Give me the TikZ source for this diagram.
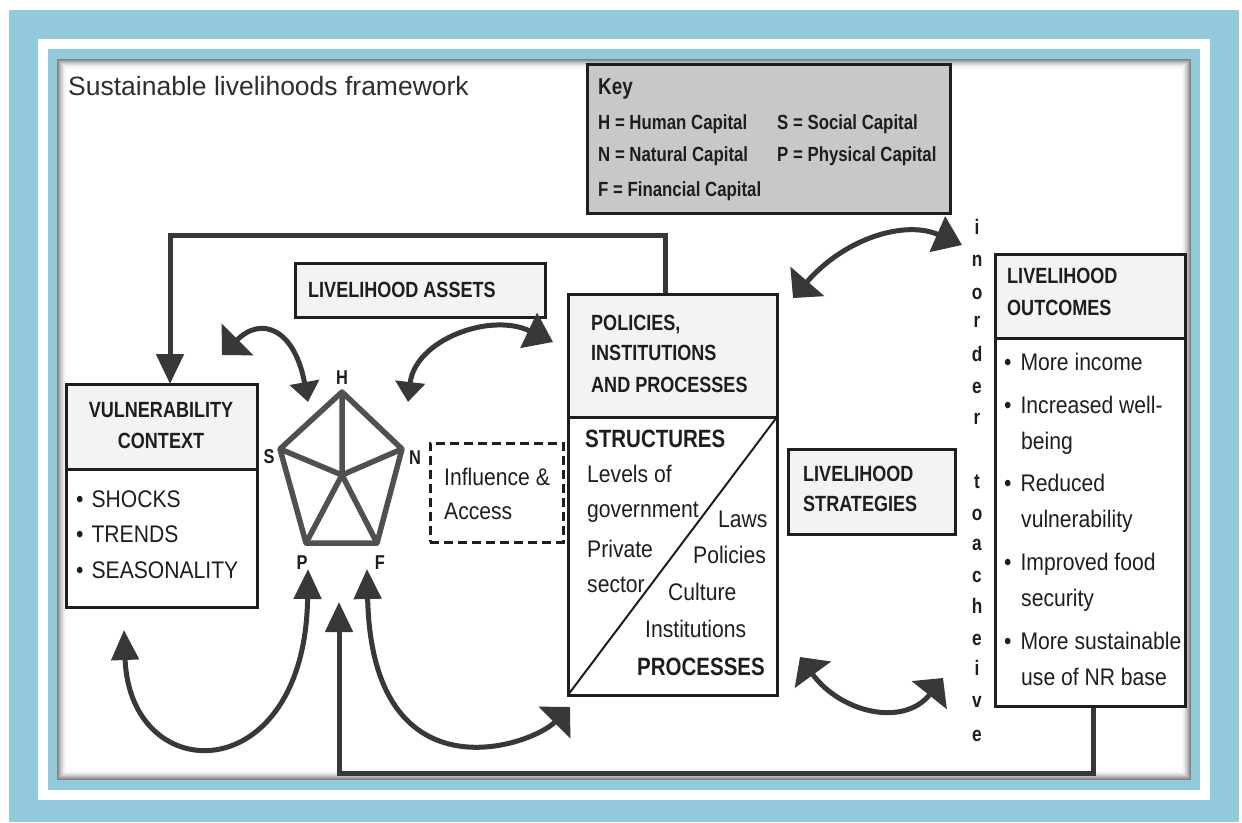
\documentclass[tikz,border=0pt]{standalone}
\usepackage{fontspec}
\setmainfont{Liberation Sans}
\newfontfamily\regf[FakeStretch=0.88]{Liberation Sans}
\newfontfamily\boldf[FakeStretch=0.82]{Liberation Sans}
\usetikzlibrary{arrows.meta}

\definecolor{frameblue}{HTML}{93CADB}
\definecolor{ink}{HTML}{1E1E1E}
\definecolor{titleink}{HTML}{2E2E2E}
\definecolor{arrowink}{HTML}{383838}
\definecolor{pentink}{HTML}{505050}
\definecolor{hdr}{HTML}{F3F3F3}
\definecolor{keyfill}{HTML}{C8C8C8}

\begin{document}
\begin{tikzpicture}[x=1pt,y=-1pt,
  box/.style={draw=ink, line width=3pt, inner sep=0pt, outer sep=0pt, fill=white},
  hbox/.style={box, fill=hdr},
  lbl/.style={anchor=base west, inner sep=0pt, text=ink, font=\boldf\bfseries\fontsize{22}{26}\selectfont},
  keyt/.style={lbl, font=\boldf\bfseries\fontsize{20.5}{24}\selectfont},
  biglbl/.style={lbl, font=\boldf\bfseries\fontsize{25}{30}\selectfont},
  txt/.style={anchor=base west, inner sep=0pt, text=ink, font=\regf\fontsize{24}{28}\selectfont},
  vlet/.style={anchor=base, inner sep=0pt, text=ink, font=\boldf\bfseries\fontsize{21}{24}\selectfont},
  capl/.style={anchor=center, inner sep=0pt, text=ink, font=\boldf\bfseries\fontsize{20}{24}\selectfont},
  conn/.style={draw=arrowink, line width=5pt},
  pent/.style={draw=pentink, line width=5.5pt, line join=round},
  hA/.tip={Triangle[length=30pt,width=27pt]},
  hB/.tip={Triangle[length=27pt,width=38pt]},
  hC/.tip={Triangle[length=22pt,width=44pt]},
  hD/.tip={Triangle[length=20pt,width=29pt]},
]
\useasboundingbox (0,0) rectangle (1242,822);

% ---- frame ----
\fill[white] (0,0) rectangle (1242,822);
\fill[frameblue] (9,10) rectangle (1239,822);
\fill[white] (38,39) rectangle (1210,800);
\fill[frameblue] (48,49) rectangle (1200,790);
\fill[white] (57,59) rectangle (1191,780);
\foreach \i/\g in {0.5/50,1.5/42,2.5/34,3.5/27,4.5/20,5.5/14,6.5/9,7.5/5,8.5/3,9.5/1}
  \draw[black!\g, line width=1pt] (57+\i,59+\i) rectangle (1191-\i,780-\i);

% ---- title ----
\node[anchor=base west, inner sep=0pt, text=titleink, font=\fontsize{26.5}{30}\selectfont] (title) at (68,95) {Sustainable livelihoods framework};

% ---- key ----
\node[box, fill=keyfill, minimum width=363pt, minimum height=149pt] (key) at (768.5,138.5) {};
\node[keyt, font=\boldf\bfseries\fontsize{23}{26}\selectfont] (keyK) at (598,94) {Key};
\node[keyt] (keyH) at (598,129) {H = Human Capital};
\node[keyt] (keyS) at (777,129) {S = Social Capital};
\node[keyt] (keyN) at (598,161) {N = Natural Capital};
\node[keyt] (keyP) at (777,161) {P = Physical Capital};
\node[keyt] (keyF) at (598,196) {F = Financial Capital};

% ---- connector from policies back to vulnerability ----
\coordinate (pipTop) at (665,294);
\coordinate (topR) at (665,235);
\coordinate (topL) at (170,235);
\coordinate (vulTop) at (170,384);
\draw[conn, -{hA}] (pipTop) -- (topR) -- (topL) -- (vulTop);

% ---- outcomes feed back to the asset pentagon ----
\coordinate (outBot) at (1093,706);
\coordinate (loopR) at (1093,773);
\coordinate (loopL) at (339,773);
\coordinate (pentIn) at (339,602);
\draw[conn, -{hA}] (outBot) -- (loopR) -- (loopL) -- (pentIn);

% ---- boxes ----
\node[hbox, minimum width=250pt, minimum height=54pt] (assets) at (420,290) {};
\node[lbl] (assetsT) at (308,297) {LIVELIHOOD ASSETS};

\node[hbox, minimum width=191pt, minimum height=85pt] (vulH) at (161.5,426.5) {};
\node[box, minimum width=191pt, minimum height=138pt] (vulB) at (161.5,538) {};
\node[lbl, anchor=base] (vulT1) at (161,417) {VULNERABILITY};
\node[lbl, anchor=base] (vulT2) at (161,448) {CONTEXT};
\node[txt] (vulB1) at (76,507) {\textbullet\hspace{8pt}SHOCKS};
\node[txt] (vulB2) at (76,542) {\textbullet\hspace{8pt}TRENDS};
\node[txt] (vulB3) at (76,578) {\textbullet\hspace{8pt}SEASONALITY};

\node[box, dashed, dash pattern=on 9pt off 5pt, minimum width=133pt, minimum height=99pt] (infl) at (496.5,492.5) {};
\node[txt] (inflT1) at (444,485) {Influence \&};
\node[txt] (inflT2) at (444,519) {Access};

\node[hbox, minimum width=209pt, minimum height=123pt] (pipH) at (672.5,355.5) {};
\node[box, minimum width=209pt, minimum height=278pt] (pipB) at (672.5,556) {};
\draw[ink, line width=2pt] (pipB.south west) -- (pipB.north east);
\node[lbl] (pipT1) at (591,330) {POLICIES,};
\node[lbl] (pipT2) at (591,360) {INSTITUTIONS};
\node[lbl] (pipT3) at (591,392) {AND PROCESSES};
\node[biglbl] (strT) at (585,447) {STRUCTURES};
\node[txt] (s1) at (587,482) {Levels of};
\node[txt] (s2) at (587,517) {government};
\node[txt] (s3) at (587,557) {Private};
\node[txt] (s4) at (587,592) {sector};
\node[txt] (p1) at (718,527) {Laws};
\node[txt] (p2) at (693,563) {Policies};
\node[txt] (p3) at (668,600) {Culture};
\node[txt] (p4) at (645,637) {Institutions};
\node[biglbl] (procT) at (637,675) {PROCESSES};

\node[hbox, minimum width=167pt, minimum height=85pt] (strat) at (871.5,491.5) {};
\node[lbl] (stratT1) at (803,481) {LIVELIHOOD};
\node[lbl] (stratT2) at (803,511) {STRATEGIES};

\node[hbox, minimum width=190pt, minimum height=84pt] (outH) at (1090,296) {};
\node[box, minimum width=190pt, minimum height=368pt] (outB) at (1090,522) {};
\node[lbl] (outT1) at (1007,283) {LIVELIHOOD};
\node[lbl] (outT2) at (1007,315) {OUTCOMES};
\node[txt] (o1) at (1004,370) {\textbullet\hspace{9pt}More income};
\node[txt] (o2) at (1004,413) {\textbullet\hspace{9pt}Increased well-};
\node[txt] (o3) at (1021,449) {being};
\node[txt] (o4) at (1004,491) {\textbullet\hspace{9pt}Reduced};
\node[txt] (o5) at (1021,527) {vulnerability};
\node[txt] (o6) at (1004,570) {\textbullet\hspace{9pt}Improved food};
\node[txt] (o7) at (1021,606) {security};
\node[txt] (o8) at (1004,649) {\textbullet\hspace{9pt}More sustainable};
\node[txt] (o9) at (1021,685) {use of NR base};

% ---- vertical caption ----
\foreach \c/\yy [count=\k] in {i/234,n/266,o/299,r/327,d/361,e/393,r/424,t/488,o/520,a/550,c/582,h/613,e/645,i/675,v/707,e/741}
  \node[vlet] (vl\k) at (977,\yy) {\c};

% ---- asset pentagon ----
\coordinate (H) at (342,392);
\coordinate (S) at (280,449);
\coordinate (N) at (402,449);
\coordinate (P) at (306,543);
\coordinate (F) at (377,543);
\coordinate (C) at (342,475);
\draw[pent] (H) -- (N) -- (F) -- (P) -- (S) -- cycle;
\draw[pent] (H) -- (C) (S) -- (C) (N) -- (C) (C) -- (P) (C) -- (F);
\node[capl] (capH) at (342,378) {H};
\node[capl] (capS) at (269,457) {S};
\node[capl] (capN) at (415,458) {N};
\node[capl] (capP) at (302,563) {P};
\node[capl] (capF) at (380,563) {F};

% ---- two-way influence arrows ----
\coordinate (hlA) at (222,355);
\coordinate (hlB) at (308,402);
\draw[conn, {hC}-{hD}] (hlA) .. controls (262,315) and (295,330) .. (hlB);

\coordinate (nA) at (408,402);
\coordinate (nB) at (553,342);
\draw[conn, {hD}-{hB}] (nA) .. controls (415,340) and (490,312) .. (nB);

\coordinate (trA) at (793,298);
\coordinate (trB) at (962,245);
\draw[conn, {hC}-{hB}] (trA) .. controls (845,238) and (905,220) .. (trB);

\coordinate (brA) at (800,657);
\coordinate (brB) at (943,678);
\draw[conn, {hC}-{hC}] (brA) .. controls (840,712) and (903,728) .. (brB);

\coordinate (plA) at (124,630);
\coordinate (plB) at (308,569);
\draw[conn, {hA}-{hA}] (plA) .. controls (130,790) and (305,790) .. (plB);

\coordinate (fA) at (367,569);
\coordinate (fB) at (570,707);
\draw[conn, {hA}-{hC}] (fA) .. controls (372,800) and (530,747) .. (fB);

\end{tikzpicture}
\end{document}
